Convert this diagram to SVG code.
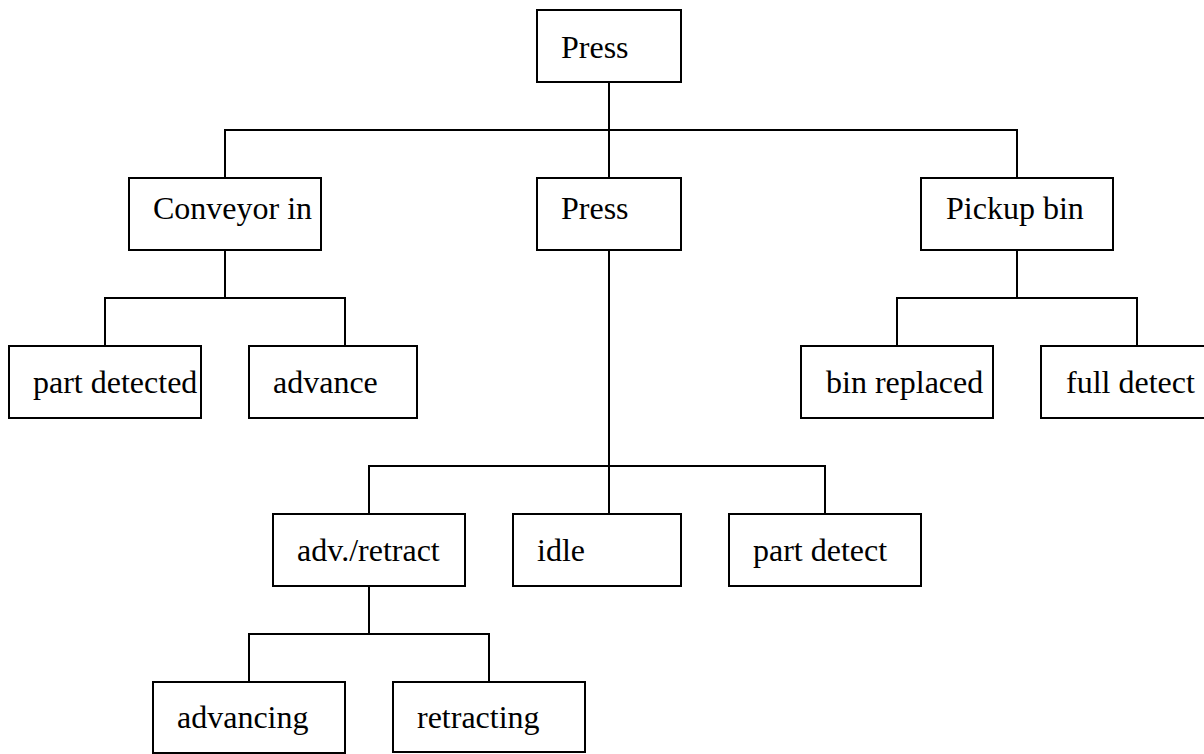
<svg xmlns="http://www.w3.org/2000/svg" width="1204" height="754" viewBox="0 0 1204 754">
<style>
.box{fill:#fff;stroke:#000;stroke-width:2}
.lbl{font-family:"Liberation Serif","Times New Roman",serif;font-size:32px;fill:#000}
.conn{fill:none;stroke:#000;stroke-width:2}
</style>
<rect width="1204" height="754" fill="#fff"/>
<g id="connectors" class="conn">
<path d="M609,82V178"/>
<path d="M225,178V130H1017V178"/>
<path d="M225,250V298"/>
<path d="M105,346V298H345V346"/>
<path d="M1017,250V298"/>
<path d="M897,346V298H1137V346"/>
<path d="M609,250V514"/>
<path d="M369,514V466H825V514"/>
<path d="M369,586V634"/>
<path d="M249,682V634H489V682"/>
</g>
<g id="press-root"><rect class="box" x="537" y="10" width="144" height="72"/><text class="lbl" x="561" y="58">Press</text></g>
<g id="conveyor-in"><rect class="box" x="129" y="178" width="192" height="72"/><text class="lbl" x="153" y="219">Conveyor in</text></g>
<g id="press"><rect class="box" x="537" y="178" width="144" height="72"/><text class="lbl" x="561" y="219">Press</text></g>
<g id="pickup-bin"><rect class="box" x="921" y="178" width="192" height="72"/><text class="lbl" x="946" y="219">Pickup bin</text></g>
<g id="part-detected"><rect class="box" x="9" y="346" width="192" height="72"/><text class="lbl" x="33" y="393">part detected</text></g>
<g id="advance"><rect class="box" x="249" y="346" width="168" height="72"/><text class="lbl" x="273" y="393">advance</text></g>
<g id="bin-replaced"><rect class="box" x="801" y="346" width="192" height="72"/><text class="lbl" x="826" y="393">bin replaced</text></g>
<g id="full-detect"><rect class="box" x="1041" y="346" width="192" height="72"/><text class="lbl" x="1066" y="393">full detect</text></g>
<g id="adv-retract"><rect class="box" x="273" y="514" width="192" height="72"/><text class="lbl" x="297" y="561">adv./retract</text></g>
<g id="idle"><rect class="box" x="513" y="514" width="168" height="72"/><text class="lbl" x="537" y="561">idle</text></g>
<g id="part-detect"><rect class="box" x="729" y="514" width="192" height="72"/><text class="lbl" x="753" y="561">part detect</text></g>
<g id="advancing"><rect class="box" x="153" y="682" width="192" height="71"/><text class="lbl" x="177" y="728">advancing</text></g>
<g id="retracting"><rect class="box" x="393" y="682" width="192" height="70"/><text class="lbl" x="417" y="728">retracting</text></g>
</svg>
